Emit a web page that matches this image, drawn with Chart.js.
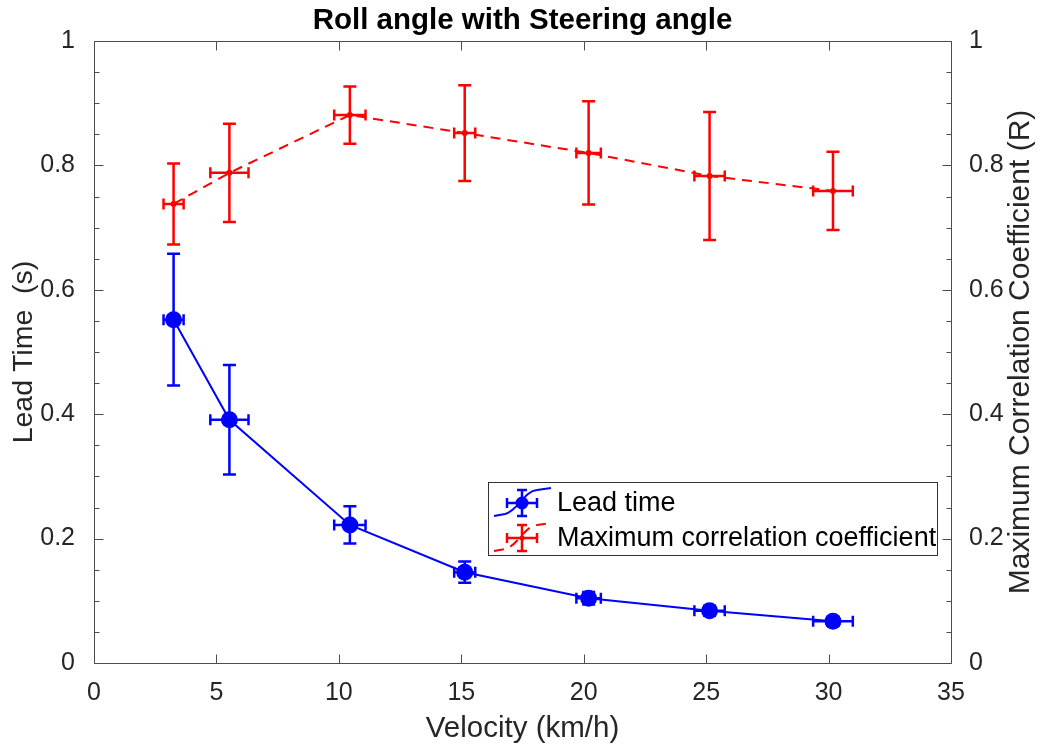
<!DOCTYPE html>
<html>
<head>
<meta charset="utf-8">
<script src="https://cdn.jsdelivr.net/npm/chart.js@4.4.1/dist/chart.umd.min.js"></script>
<style>
html,body{margin:0;padding:0;background:#fff;}
#wrap{width:1045px;height:748px;}
</style>
</head>
<body>
<div id="wrap"><canvas id="c" width="1045" height="748"></canvas></div>
<script>
// ---- data ----
const velocity      = [3.25, 5.53, 10.45, 15.14, 20.20, 25.14, 30.18];
const velocityErr   = [0.41, 0.78, 0.64, 0.43, 0.50, 0.62, 0.81];
const leadTime      = [0.552, 0.391, 0.222, 0.146, 0.104, 0.084, 0.067];
const leadTimeErr   = [0.106, 0.088, 0.030, 0.017, 0.010, 0.008, 0.007];
const maxCorr       = [0.738, 0.788, 0.881, 0.852, 0.820, 0.783, 0.759];
const maxCorrErr    = [0.065, 0.079, 0.046, 0.077, 0.083, 0.103, 0.063];
const seriesLabels  = ['Lead time', 'Maximum correlation coefficient'];
const xTicks        = [0, 5, 10, 15, 20, 25, 30, 35];
const yTicks        = [0, 0.2, 0.4, 0.6, 0.8, 1];
const chartTitle    = 'Roll angle with Steering angle';
const xTitle        = 'Velocity (km/h)';
const yLeftTitle    = 'Lead Time  (s)';
const yRightTitle   = 'Maximum Correlation Coefficient (R)';

const FONT = "'Liberation Sans', Arial, Helvetica, sans-serif";
const TXT = '#262626';
const AXC = '#4d4d4d';
const BLUE = '#0000ff';
const RED = '#ff0000';

Chart.defaults.font.family = FONT;
Chart.defaults.color = TXT;

const toPts = (xs, ys) => xs.map((v, i) => ({x: v, y: ys[i]}));
const fmt = v => String(+Number(v).toFixed(2));

// error bars drawn through the chart scales
const errorBars = {
  id: 'errorBars',
  beforeDatasetsDraw(chart) {
    const ctx = chart.ctx;
    chart.data.datasets.forEach((ds, i) => {
      const meta = chart.getDatasetMeta(i);
      const xs = chart.scales[meta.xAxisID], ys = chart.scales[meta.yAxisID];
      ctx.save();
      ctx.strokeStyle = ds.borderColor;
      ctx.lineWidth = 2.5;
      ctx.setLineDash([]);
      ds.data.forEach((p, j) => {
        const cx = xs.getPixelForValue(p.x), cy = ys.getPixelForValue(p.y);
        const x0 = xs.getPixelForValue(p.x - ds.xErr[j]), x1 = xs.getPixelForValue(p.x + ds.xErr[j]);
        const y0 = ys.getPixelForValue(p.y - ds.yErr[j]), y1 = ys.getPixelForValue(p.y + ds.yErr[j]);
        const cw = 6.5, ch = 5.5;
        ctx.beginPath();
        ctx.moveTo(cx, y0); ctx.lineTo(cx, y1);
        ctx.moveTo(cx - cw, y0); ctx.lineTo(cx + cw, y0);
        ctx.moveTo(cx - cw, y1); ctx.lineTo(cx + cw, y1);
        ctx.moveTo(x0, cy); ctx.lineTo(x1, cy);
        ctx.moveTo(x0, cy - ch); ctx.lineTo(x0, cy + ch);
        ctx.moveTo(x1, cy - ch); ctx.lineTo(x1, cy + ch);
        ctx.stroke();
      });
      ctx.restore();
    });
  }
};

// MATLAB-style box with inward ticks, right title and legend
const frame = {
  id: 'frame',
  afterDraw(chart) {
    const {ctx, chartArea: a, scales} = chart;
    const x = scales.x, y = scales.y, y1 = scales.y1;
    ctx.save();
    ctx.strokeStyle = AXC;
    ctx.lineWidth = 1;
    ctx.setLineDash([]);
    const L = Math.round(a.left) + 0.5, R = Math.round(a.right) + 0.5;
    const T = Math.round(a.top) + 0.5, B = Math.round(a.bottom) + 0.5;
    ctx.beginPath();
    ctx.rect(L, T, R - L, B - T);
    ctx.stroke();
    ctx.beginPath();
    x.ticks.forEach(t => {
      const px = Math.round(x.getPixelForValue(t.value)) + 0.5;
      ctx.moveTo(px, B); ctx.lineTo(px, B - 9);
      ctx.moveTo(px, T); ctx.lineTo(px, T + 9);
    });
    for (let k = 0; k <= 20; k++) {
      const v = k / 20;
      const len = (k % 4 === 0) ? 9 : 5;
      const py = Math.round(y.getPixelForValue(v)) + 0.5;
      ctx.moveTo(L, py); ctx.lineTo(L + len, py);
      const py1 = Math.round(y1.getPixelForValue(v)) + 0.5;
      ctx.moveTo(R, py1); ctx.lineTo(R - len, py1);
    }
    ctx.stroke();

    // right axis title, reading bottom to top
    ctx.save();
    ctx.fillStyle = TXT;
    ctx.font = '30px ' + FONT;
    ctx.textAlign = 'center';
    ctx.textBaseline = 'middle';
    ctx.translate(y1.right - 24, (a.top + a.bottom) / 2);
    ctx.rotate(-Math.PI / 2);
    ctx.fillText(yRightTitle, 0, 0);
    ctx.restore();

    // legend
    const lx = a.left + 394, ly = a.top + 441, lw = 449, lh = 73;
    ctx.fillStyle = '#fff';
    ctx.fillRect(lx, ly, lw, lh);
    ctx.strokeStyle = '#333';
    ctx.lineWidth = 1;
    ctx.strokeRect(Math.round(lx) + 0.5, Math.round(ly) + 0.5, lw, lh);
    const rows = [ly + 21, ly + 56];
    chart.data.datasets.forEach((ds, i) => {
      const cy = rows[i];
      ctx.strokeStyle = ds.borderColor;
      ctx.lineWidth = 2;
      ctx.setLineDash(ds.borderDash || []);
      ctx.beginPath();
      ctx.moveTo(lx + 6, cy + 13);
      ctx.lineTo(lx + 17, cy + 11);
      ctx.bezierCurveTo(lx + 30, cy + 8, lx + 36, cy - 12, lx + 49, cy - 13);
      ctx.lineTo(lx + 63, cy - 15);
      ctx.stroke();
      ctx.setLineDash([]);
      ctx.lineWidth = 2.5;
      const mx = lx + 34;
      ctx.beginPath();
      ctx.moveTo(mx, cy - 13); ctx.lineTo(mx, cy + 13);
      ctx.moveTo(mx - 5, cy - 13); ctx.lineTo(mx + 5, cy - 13);
      ctx.moveTo(mx - 5, cy + 13); ctx.lineTo(mx + 5, cy + 13);
      ctx.moveTo(mx - 15, cy); ctx.lineTo(mx + 15, cy);
      ctx.moveTo(mx - 15, cy - 5); ctx.lineTo(mx - 15, cy + 5);
      ctx.moveTo(mx + 15, cy - 5); ctx.lineTo(mx + 15, cy + 5);
      ctx.stroke();
      ctx.fillStyle = ds.borderColor;
      ctx.beginPath();
      ctx.arc(mx, cy, i === 0 ? 6.5 : 2.5, 0, Math.PI * 2);
      ctx.fill();
      ctx.fillStyle = '#000';
      ctx.font = '27px ' + FONT;
      ctx.textAlign = 'left';
      ctx.textBaseline = 'middle';
      ctx.fillText(ds.label, lx + 69, cy + 1);
    });
    ctx.restore();
  }
};

new Chart(document.getElementById('c'), {
  type: 'line',
  data: {
    datasets: [
      {
        label: seriesLabels[0],
        data: toPts(velocity, leadTime),
        xErr: velocityErr,
        yErr: leadTimeErr,
        yAxisID: 'y',
        borderColor: BLUE,
        backgroundColor: BLUE,
        borderWidth: 2,
        pointRadius: 8.5,
        pointBorderWidth: 0,
        pointBackgroundColor: BLUE,
        tension: 0
      },
      {
        label: seriesLabels[1],
        data: toPts(velocity, maxCorr),
        xErr: velocityErr,
        yErr: maxCorrErr,
        yAxisID: 'y1',
        borderColor: RED,
        backgroundColor: RED,
        borderWidth: 2,
        borderDash: [10, 7],
        pointRadius: 3,
        pointBorderWidth: 0,
        pointBackgroundColor: RED,
        tension: 0
      }
    ]
  },
  options: {
    responsive: false,
    animation: false,
    events: [],
    layout: {padding: 0},
    plugins: {
      legend: {display: false},
      tooltip: {enabled: false},
      title: {
        display: true,
        text: chartTitle,
        color: '#000',
        font: {size: 29.5, weight: 'bold', lineHeight: 1.2},
        padding: {top: 3.3, bottom: 2.3}
      }
    },
    scales: {
      x: {
        type: 'linear',
        position: 'bottom',
        min: 0, max: 35,
        afterBuildTicks: s => { s.ticks = xTicks.map(v => ({value: v})); },
        grid: {display: false},
        border: {display: false},
        ticks: {font: {size: 25}, padding: 7, maxRotation: 0, color: TXT, callback: fmt},
        title: {display: true, text: xTitle, color: TXT, font: {size: 29.5, lineHeight: 1.2}, padding: {top: 0, bottom: 1}},
        afterFit: s => { s.height = 85; }
      },
      y: {
        type: 'linear',
        position: 'left',
        min: 0, max: 1,
        afterBuildTicks: s => { s.ticks = yTicks.map(v => ({value: v})); },
        grid: {display: false},
        border: {display: false},
        ticks: {font: {size: 25}, padding: 11, color: TXT, callback: fmt},
        title: {display: true, text: yLeftTitle, color: TXT, font: {size: 28.5, lineHeight: 1.2}, padding: {top: 7, bottom: 0}},
        afterFit: s => { s.width = 94; }
      },
      y1: {
        type: 'linear',
        position: 'right',
        min: 0, max: 1,
        afterBuildTicks: s => { s.ticks = yTicks.map(v => ({value: v})); },
        grid: {display: false},
        border: {display: false},
        ticks: {font: {size: 25}, padding: 10, color: TXT, callback: fmt},
        title: {display: false},
        afterFit: s => { s.width = 94; }
      }
    }
  },
  plugins: [errorBars, frame]
});
</script>
</body>
</html>
